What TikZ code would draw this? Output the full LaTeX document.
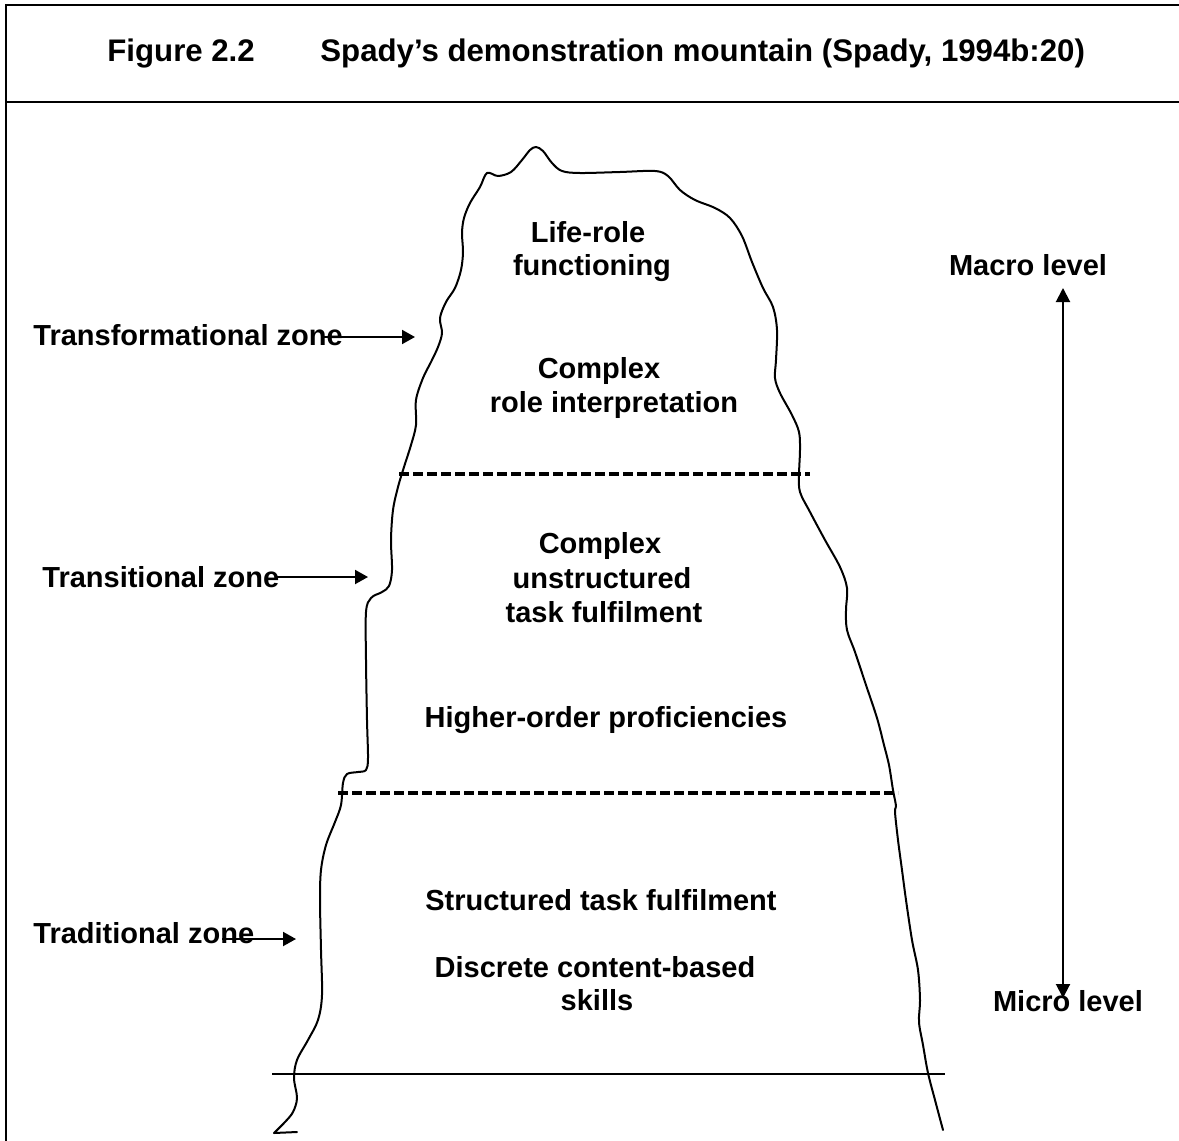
\documentclass[tikz,border=0pt]{standalone}
\usepackage{fontspec}
\setmainfont{Liberation Sans}
\usetikzlibrary{arrows.meta}
\newcommand\bodyfnt{\fontsize{14.5}{17}\selectfont\bfseries}
\newcommand\titlefnt{\fontsize{15.6}{18}\selectfont\bfseries}
\tikzset{
  frameline/.style={line width=1.3pt, line cap=rect},
  outline/.style={line width=1pt, line join=round, line cap=round},
  zoneline/.style={line width=1.8pt, dash pattern=on 4.8pt off 2.2pt},
  groundline/.style={line width=0.8pt},
  arr/.style={line width=1pt, -{Triangle[length=6.5pt,width=7pt]}},
  darr/.style={line width=1pt, {Triangle[length=7pt,width=7pt]}-{Triangle[length=7pt,width=7pt]}},
  lbl/.style={font=\bodyfnt, inner sep=0pt, anchor=base},
  ttl/.style={font=\titlefnt, inner sep=0pt, anchor=base west}
}
\begin{document}
\begin{tikzpicture}[x=0.5pt,y=-0.5pt]
\useasboundingbox (0,0) rectangle (1179,1141);
\fill[white] (0,0) rectangle (1179,1141);

% frame
\draw[frameline] (1179,5) -- (6,5) -- (6,1141);
\draw[frameline] (6,102) -- (1179,102);

% title
\node[ttl] (fig) at (107,61) {Figure 2.2};
\node[ttl] (cap) at (320,61) {Spady’s demonstration mountain (Spady, 1994b:20)};

% mountain outline
\draw[outline] (297,1132) -- (274,1133) -- plot[smooth, tension=0.55] coordinates {
 (274,1133) (285,1122) (293,1112) (297,1098) (294,1078) (297,1060) (308,1040)
 (318,1020) (322,995) (321,950) (320,900) (321,870) (326,845) (335,822)
 (341,805) (343,783) (347,774) (358,772) (366,770) (368,758) (367,720)
 (366,660) (366,612) (371,598) (382,592) (389,586) (392,570) (391,540)
 (393,510) (398,487) (404,467) (411,445) (416,425) (416,400) (423,378)
 (431,362) (438,347) (442,333) (440,318) (446,302) (455,288) (461,270)
 (463,252) (462,233) (464,218) (470,203) (480,187) (487,173) (498,176)
 (511,172) (522,160) (530,150) (536,147) (543,151) (552,163) (562,171)
 (580,173) (620,172) (655,171) (668,176) (680,190) (695,200) (715,208)
 (730,218) (742,236) (752,262) (763,288) (773,307) (777,330) (776,360)
 (775,378) (780,393) (792,415) (799,432) (800,450) (799,475) (800,492)
 (810,512) (825,540) (840,567) (847,588) (846,610) (847,630) (855,652)
 (866,685) (877,718) (884,745) (889,765) (893,790) (896,806) (895,812)
 (898,840) (902,870) (906,900) (912,940) (918,970) (920,1000) (919,1022)
 (923,1045) (928,1073) (935,1100) (943,1130)};

% zone boundaries
\coordinate (d1a) at (399,474); \coordinate (d1b) at (810,474);
\coordinate (d2a) at (338,793); \coordinate (d2b) at (898,793);
\draw[zoneline] (d1a) -- (d1b);
\draw[zoneline] (d2a) -- (d2b);
\coordinate (g1) at (272,1074); \coordinate (g2) at (945,1074);
\draw[groundline] (g1) -- (g2);

% labels inside mountain
\node[lbl] (lr1) at (588,242) {Life-role};
\node[lbl] (lr2) at (592,275) {functioning};
\node[lbl] (cr1) at (599,378) {Complex};
\node[lbl] (cr2) at (614,412) {role interpretation};
\node[lbl] (cu1) at (600,553) {Complex};
\node[lbl] (cu2) at (602,588) {unstructured};
\node[lbl] (cu3) at (604,622) {task fulfilment};
\node[lbl] (hop) at (606,727) {Higher-order proficiencies};
\node[lbl] (stf) at (601,910) {Structured task fulfilment};
\node[lbl] (dc1) at (595,977) {Discrete content-based};
\node[lbl] (dc2) at (597,1010) {skills};

% zone labels
\node[lbl, anchor=base west] (zt1) at (33,345) {Transformational zone};
\node[lbl, anchor=base west] (zt2) at (42,587) {Transitional zone};
\node[lbl, anchor=base west] (zt3) at (33,943) {Traditional zone};
\coordinate (a1s) at (322,337); \coordinate (a1e) at (415,337);
\coordinate (a2s) at (277,577); \coordinate (a2e) at (368,577);
\coordinate (a3s) at (222,939); \coordinate (a3e) at (296,939);
\draw[arr] (a1s) -- (a1e);
\draw[arr] (a2s) -- (a2e);
\draw[arr] (a3s) -- (a3e);

% levels
\node[lbl] (mac) at (1028,275) {Macro level};
\node[lbl] (mic) at (1068,1011) {Micro level};
\coordinate (vt) at (1063,288); \coordinate (vb) at (1063,998);
\draw[darr] (vb) -- (vt);
\end{tikzpicture}
\end{document}
